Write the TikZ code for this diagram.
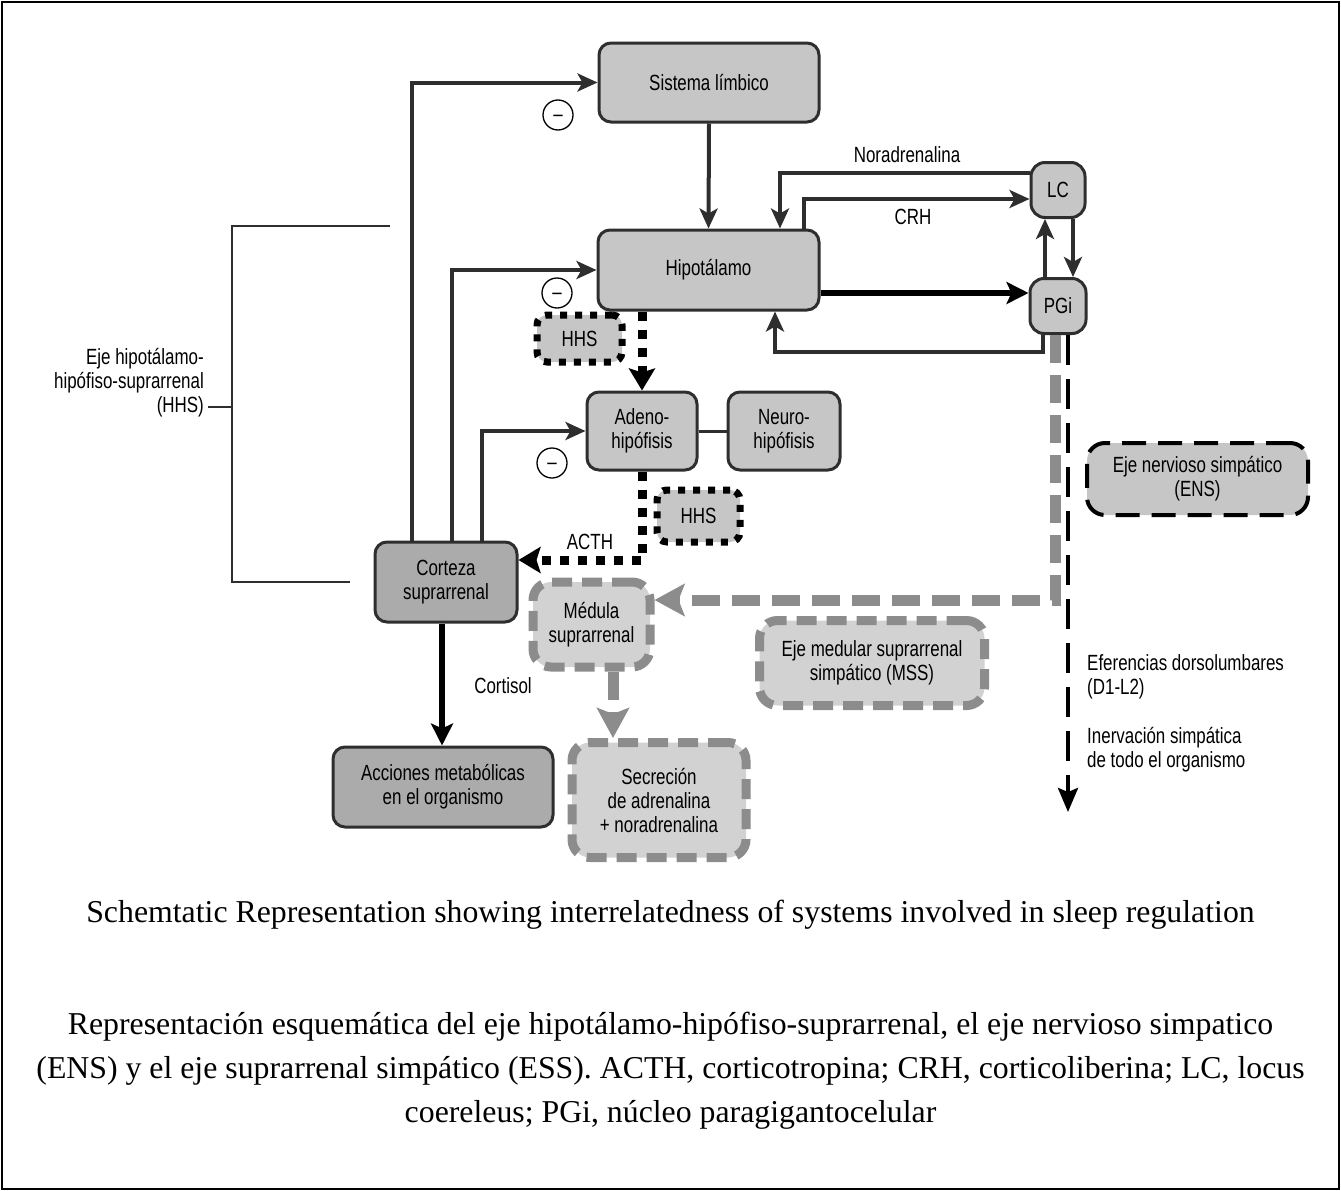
\documentclass[tikz,border=0pt]{standalone}
\usepackage{fontspec}
\setmainfont{Liberation Serif}
\newfontfamily\diagfam[FakeStretch=0.77]{Liberation Sans}
\usetikzlibrary{arrows.meta}
\definecolor{boxfill}{HTML}{C6C6C6}
\definecolor{boxdark}{HTML}{ABABAB}
\definecolor{lightfill}{HTML}{D2D2D2}
\definecolor{linegray}{HTML}{2E2E2E}
\definecolor{dashgray}{HTML}{8C8C8C}
\newcommand{\diagtext}{\diagfam\fontsize{22}{24}\selectfont}
\newcommand{\captext}{\fontsize{31.8}{36}\selectfont}
\newcommand{\minussign}{\smash{\raisebox{-0.28em}{–}}}
\tikzset{
 box/.style={draw=linegray, line width=3pt, rounded corners=12pt, fill=boxfill, align=center, inner sep=0pt, font=\diagtext},
 darkbox/.style={box, fill=boxdark},
 dotbox/.style={draw=black, line width=7pt, dash pattern=on 7pt off 8pt, rounded corners=10pt, fill=boxfill, inner sep=0pt, font=\diagtext},
 graybox/.style={draw=dashgray, line width=9pt, dash pattern=on 20pt off 10pt, rounded corners=18pt, fill=lightfill, align=center, inner sep=0pt, font=\diagtext},
 ensbox/.style={draw=black, line width=4pt, dash pattern=on 24pt off 12pt, rounded corners=18pt, fill=boxfill, align=center, inner sep=0pt, font=\diagtext},
 arr/.style={draw=linegray, line width=4pt, -{Stealth[length=20pt,width=18pt,inset=5pt]}},
 thickarr/.style={draw=black, line width=6pt, -{Stealth[length=22pt,width=22pt,inset=5pt]}},
 dotarr/.style={draw=black, line width=9pt, dash pattern=on 9pt off 9pt, -{Stealth[length=22pt,width=26pt,inset=4pt]}},
 grayarr/.style={draw=dashgray, line width=11pt, dash pattern=on 28pt off 12pt, -{Stealth[length=30pt,width=32pt,inset=6pt]}},
 blackdash/.style={draw=black, line width=4pt, dash pattern=on 30pt off 14pt, -{Stealth[length=24pt,width=20pt,inset=4pt]}},
 minus/.style={circle, draw=black, line width=1.3pt, minimum size=30pt, inner sep=0pt, fill=white, font=\diagtext},
 lbl/.style={font=\diagtext, inner sep=0pt},
 bracket/.style={draw=linegray, line width=1.5pt},
 captionline/.style={font=\captext, inner sep=0pt}
}
\begin{document}
\begin{tikzpicture}[x=1pt,y=-1pt]
\useasboundingbox (0,0) rectangle (1341,1191);
\draw[line width=2pt] (2,2) rectangle (1339,1189);

% boxes
\node[box, minimum width=220pt, minimum height=79pt] (sis) at (709,82.5) {Sistema límbico};
\node[box, minimum width=221pt, minimum height=80pt] (hip) at (708.5,270) {Hipotálamo};
\node[box, rounded corners=14pt, minimum width=54pt, minimum height=55pt] (lc) at (1058,190) {LC};
\node[box, rounded corners=14pt, minimum width=56pt, minimum height=55pt] (pgi) at (1058,306) {PGi};
\node[box, minimum width=110pt, minimum height=78pt] (ade) at (642,431) {Adeno-\\hipófisis};
\node[box, minimum width=112pt, minimum height=78pt] (neu) at (784,431) {Neuro-\\hipófisis};
\node[dotbox, minimum width=85pt, minimum height=47pt] (hhsa) at (579.5,338.5) {HHS};
\node[dotbox, minimum width=83pt, minimum height=52pt] (hhsb) at (698.5,516) {HHS};
\node[darkbox, minimum width=142pt, minimum height=80pt] (cor) at (446,582) {Corteza\\suprarrenal};
\node[graybox, minimum width=117pt, minimum height=85pt] (med) at (591.5,624.5) {Médula\\suprarrenal};
\node[graybox, minimum width=225pt, minimum height=85pt] (mss) at (872,663) {Eje medular suprarrenal\\simpático (MSS)};
\node[ensbox, minimum width=221pt, minimum height=72pt] (ens) at (1197.5,479) {Eje nervioso simpático\\(ENS)};
\node[darkbox, minimum width=220pt, minimum height=80pt] (acc) at (443,787) {Acciones metabólicas\\en el organismo};
\node[graybox, minimum width=174pt, minimum height=115pt] (sec) at (659,800) {Secreción\\de adrenalina\\+ noradrenalina};

% minus signs
\node[minus] (m1) at (558,115) {\minussign};
\node[minus] (m2) at (557,293) {\minussign};
\node[minus] (m3) at (552,463) {\minussign};

% feedback from corteza
\draw[arr] (412,0 |- cor.north) |- (sis.west);
\draw[arr] (452,0 |- cor.north) |- (hip.west);
\draw[arr] (482,0 |- cor.north) |- (ade.west);

% limbic to hypothalamus
\draw[arr] (sis.south) -- (hip.north);

% noradrenalina, CRH
\draw[arr] (lc.west |- 0,173) -| (780,0 |- hip.north);
\draw[arr] (804,0 |- hip.north) |- (lc.west |- 0,199);
\node[lbl] (nor) at (907,155) {Noradrenalina};
\node[lbl] (crh) at (913,217) {CRH};

% LC <-> PGi
\draw[arr] (1073,0 |- lc.south) -- (1073,0 |- pgi.north);
\draw[arr] (1045,0 |- pgi.north) -- (1045,0 |- lc.south);

% hip -> PGi and back
\draw[thickarr] (hip.east |- 0,293) -- (pgi.west |- 0,293);
\draw[arr] (1043,0 |- pgi.south) |- (775,352) -- (775,0 |- hip.south);

% HHS dotted
\draw[dotarr] (642,0 |- hip.south) -- (ade.north);
\draw[dotarr] (ade.south) |- (cor.east |- 0,560);
\node[lbl] (acth) at (590,542) {ACTH};

% adeno - neuro
\draw[draw=linegray, line width=3pt] (ade.east) -- (neu.west);

% sympathetic
\draw[grayarr] (1055,0 |- pgi.south) |- (med.east |- 0,600);
\coordinate (effend) at (1068,812);
\draw[blackdash] (1068,0 |- pgi.south) -- (effend);
\draw[grayarr] (613,0 |- med.south) -- (613,0 |- sec.north);

% cortisol
\draw[thickarr] (442,0 |- cor.south) -- (442,0 |- acc.north);
\node[lbl] (cort) at (503,686) {Cortisol};

% labels right
\node[lbl, anchor=west, align=left] (efe) at (1087,677) {Eferencias dorsolumbares\\(D1-L2)};
\node[lbl, anchor=west, align=left] (ine) at (1087,750) {Inervación simpática\\de todo el organismo};

% HHS bracket
\coordinate (bt) at (390,226);
\coordinate (btl) at (232,226);
\coordinate (bbl) at (232,582);
\coordinate (bb) at (350,582);
\coordinate (bm) at (232,407);
\node[lbl, anchor=east, align=right] (hhslbl) at (204,383) {Eje hipotálamo-\\hipófiso-suprarrenal\\(HHS)};
\draw[bracket] (bt) -- (btl) -- (bbl) -- (bb);
\draw[bracket] (bm) -- (208,407);

% captions
\node[captionline] (c1) at (670.5,915) {Schemtatic Representation showing interrelatedness of systems involved in sleep regulation};
\node[captionline] (c2) at (670.5,1027) {Representación esquemática del eje hipotálamo-hipófiso-suprarrenal, el eje nervioso simpatico};
\node[captionline] (c3) at (670.5,1071) {(ENS) y el eje suprarrenal simpático (ESS). ACTH, corticotropina; CRH, corticoliberina; LC, locus};
\node[captionline] (c4) at (670.5,1115) {coereleus; PGi, núcleo paragigantocelular};
\end{tikzpicture}
\end{document}
